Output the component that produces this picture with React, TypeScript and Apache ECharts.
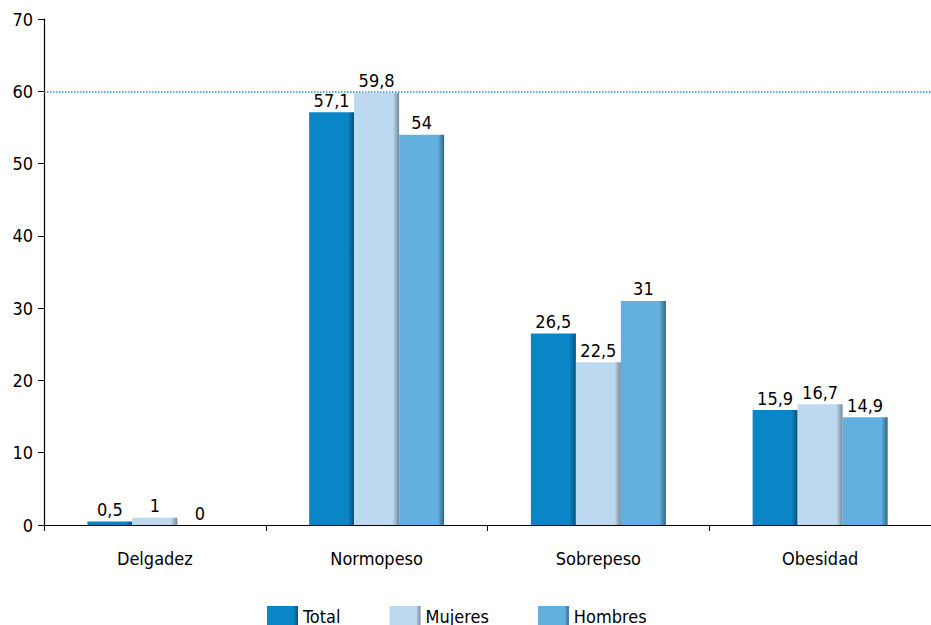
import React, { useEffect, useRef } from "react";
import * as echarts from "echarts";

const categories = ["Delgadez", "Normopeso", "Sobrepeso", "Obesidad"];
const seriesNames = ["Total", "Mujeres", "Hombres"];
const totalValues = [0.5, 57.1, 26.5, 15.9];
const mujeresValues = [1, 59.8, 22.5, 16.7];
const hombresValues = [0, 54, 31, 14.9];
const referenceValue = 60;

const FONT = "'DejaVu Sans Condensed', 'Liberation Sans', sans-serif";

const palette = [
  { main: "#0a85c6", dark: "#04507a" },
  { main: "#bdd9ef", dark: "#76889a" },
  { main: "#63b0de", dark: "#2f6486" },
];

function barFill(p: { main: string; dark: string }) {
  return new echarts.graphic.LinearGradient(0, 0, 1, 0, [
    { offset: 0, color: p.main },
    { offset: 0.86, color: p.main },
    { offset: 1, color: p.dark },
  ]);
}

export default function App() {
  const ref = useRef<HTMLDivElement>(null);
  useEffect(() => {
    document.body.style.margin = "0";
    if (!ref.current) return;
    const chart = echarts.init(ref.current, undefined, { renderer: "svg" });
    const values = [totalValues, mujeresValues, hombresValues];
    const series: any[] = seriesNames.map((name, i) => ({
      name,
      type: "bar",
      data: values[i],
      barWidth: 45,
      barGap: "0%",
      itemStyle: { color: barFill(palette[i]) },
      label: {
        show: true,
        position: "top",
        distance: 3,
        color: "#000",
        fontSize: 18,
        fontFamily: FONT,
        formatter: (p: any) => String(p.value).replace(".", ","),
      },
      ...(i === 0
        ? {
            markLine: {
              silent: true,
              symbol: ["none", "none"],
              label: { show: false },
              lineStyle: { color: "#2a8ad0", type: "dotted", width: 1.5 },
              data: [{ yAxis: referenceValue }],
            },
          }
        : {}),
    }));
    chart.setOption({
      animation: false,
      backgroundColor: "#fff",
      textStyle: { fontFamily: FONT },
      grid: { left: 44, right: 0, top: 19, bottom: 100, containLabel: false },
      legend: {
        data: seriesNames.map((n, i) => ({
          name: n,
          itemStyle: { color: barFill(palette[i]) },
        })),
        top: 601,
        left: 262,
        itemWidth: 31,
        itemHeight: 20,
        itemGap: 49,
        icon: "rect",
        textStyle: { fontSize: 18, color: "#000", fontFamily: FONT },
      },
      xAxis: {
        type: "category",
        data: categories,
        axisLine: { lineStyle: { color: "#000", width: 1.2 } },
        axisTick: { show: true, length: 6, alignWithLabel: false, lineStyle: { color: "#000" } },
        axisLabel: { color: "#000", fontSize: 18, margin: 24, fontFamily: FONT },
      },
      yAxis: {
        type: "value",
        min: 0,
        max: 70,
        interval: 10,
        axisLine: { show: true, lineStyle: { color: "#000", width: 1.2 } },
        axisTick: { show: true, length: 6, lineStyle: { color: "#000" } },
        axisLabel: { color: "#000", fontSize: 18, margin: 11, fontFamily: FONT },
        splitLine: { show: false },
      },
      series,
    });
    return () => chart.dispose();
  }, []);
  return (
    <div
      ref={ref}
      style={{ position: "absolute", left: 0, top: 0, width: 931, height: 625 }}
    />
  );
}
